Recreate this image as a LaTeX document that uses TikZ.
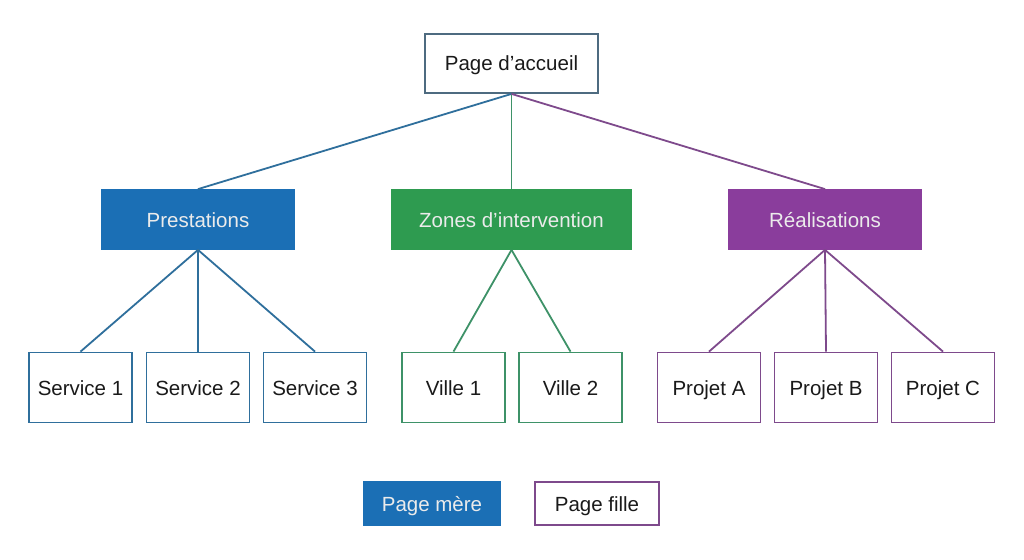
\documentclass[tikz,border=0pt]{standalone}
\usepackage{fontspec}
\setmainfont{Liberation Sans}
\definecolor{cblue}{HTML}{1B6FB5}
\definecolor{cgreen}{HTML}{2E9B50}
\definecolor{cpurple}{HTML}{8A3D9C}
\definecolor{lblue}{HTML}{2F6F9C}
\definecolor{lgreen}{HTML}{3E9268}
\definecolor{lpurple}{HTML}{7E4A8C}
\definecolor{ctop}{HTML}{4E6B80}
\definecolor{ctext}{HTML}{1A1A1A}
\begin{document}
\begin{tikzpicture}[x=1pt,y=-1pt,
  box/.style={draw, line width=1.8pt, minimum height=59pt, inner sep=0pt, font=\fontsize{20.5}{24}\selectfont, text=ctext, text height=17pt, text depth=2pt},
  parent/.style={box, minimum height=59pt, text=white!92!black},
  child/.style={box, fill=white, minimum width=103pt, minimum height=70pt},
  link/.style={line width=1.8pt}]
\useasboundingbox (0,0) rectangle (1024,559);
\fill[white] (0,0) rectangle (1024,559);
% top
\node[box, draw=ctop, fill=white, minimum width=173pt] (home) at (511.5,63.5) {Page d’accueil};
% parents
\node[parent, draw=cblue, fill=cblue, minimum width=192pt] (prest) at (198,219.5) {Prestations};
\node[parent, draw=cgreen, fill=cgreen, minimum width=239pt] (zones) at (511.5,219.5) {Zones d’intervention};
\node[parent, draw=cpurple, fill=cpurple, minimum width=192pt] (real) at (825,219.5) {Réalisations};
% children
\node[child, draw=lblue] (s1) at (80.5,387.5) {Service 1};
\node[child, draw=lblue] (s2) at (198,387.5) {Service 2};
\node[child, draw=lblue] (s3) at (315,387.5) {Service 3};
\node[child, draw=lgreen] (v1) at (453.5,387.5) {Ville 1};
\node[child, draw=lgreen] (v2) at (570.5,387.5) {Ville 2};
\node[child, draw=lpurple] (pa) at (709,387.5) {Projet A};
\node[child, draw=lpurple] (pb) at (826,387.5) {Projet B};
\node[child, draw=lpurple] (pc) at (943,387.5) {Projet C};
% links
\draw[link, draw=lblue] (home.south) -- (prest.north);
\draw[link, draw=lgreen] (home.south) -- (zones.north);
\draw[link, draw=lpurple] (home.south) -- (real.north);
\foreach \c in {s1,s2,s3} \draw[link, draw=lblue] (prest.south) -- (\c.north);
\foreach \c in {v1,v2} \draw[link, draw=lgreen] (zones.south) -- (\c.north);
\foreach \c in {pa,pb,pc} \draw[link, draw=lpurple] (real.south) -- (\c.north);
% legend
\node[parent, draw=cblue, fill=cblue, minimum width=136pt, minimum height=43pt] (lm) at (432,503.5) {Page mère};
\node[box, draw=lpurple, fill=white, minimum width=124pt, minimum height=43pt] (lf) at (597,503.5) {Page fille};
\end{tikzpicture}
\end{document}
